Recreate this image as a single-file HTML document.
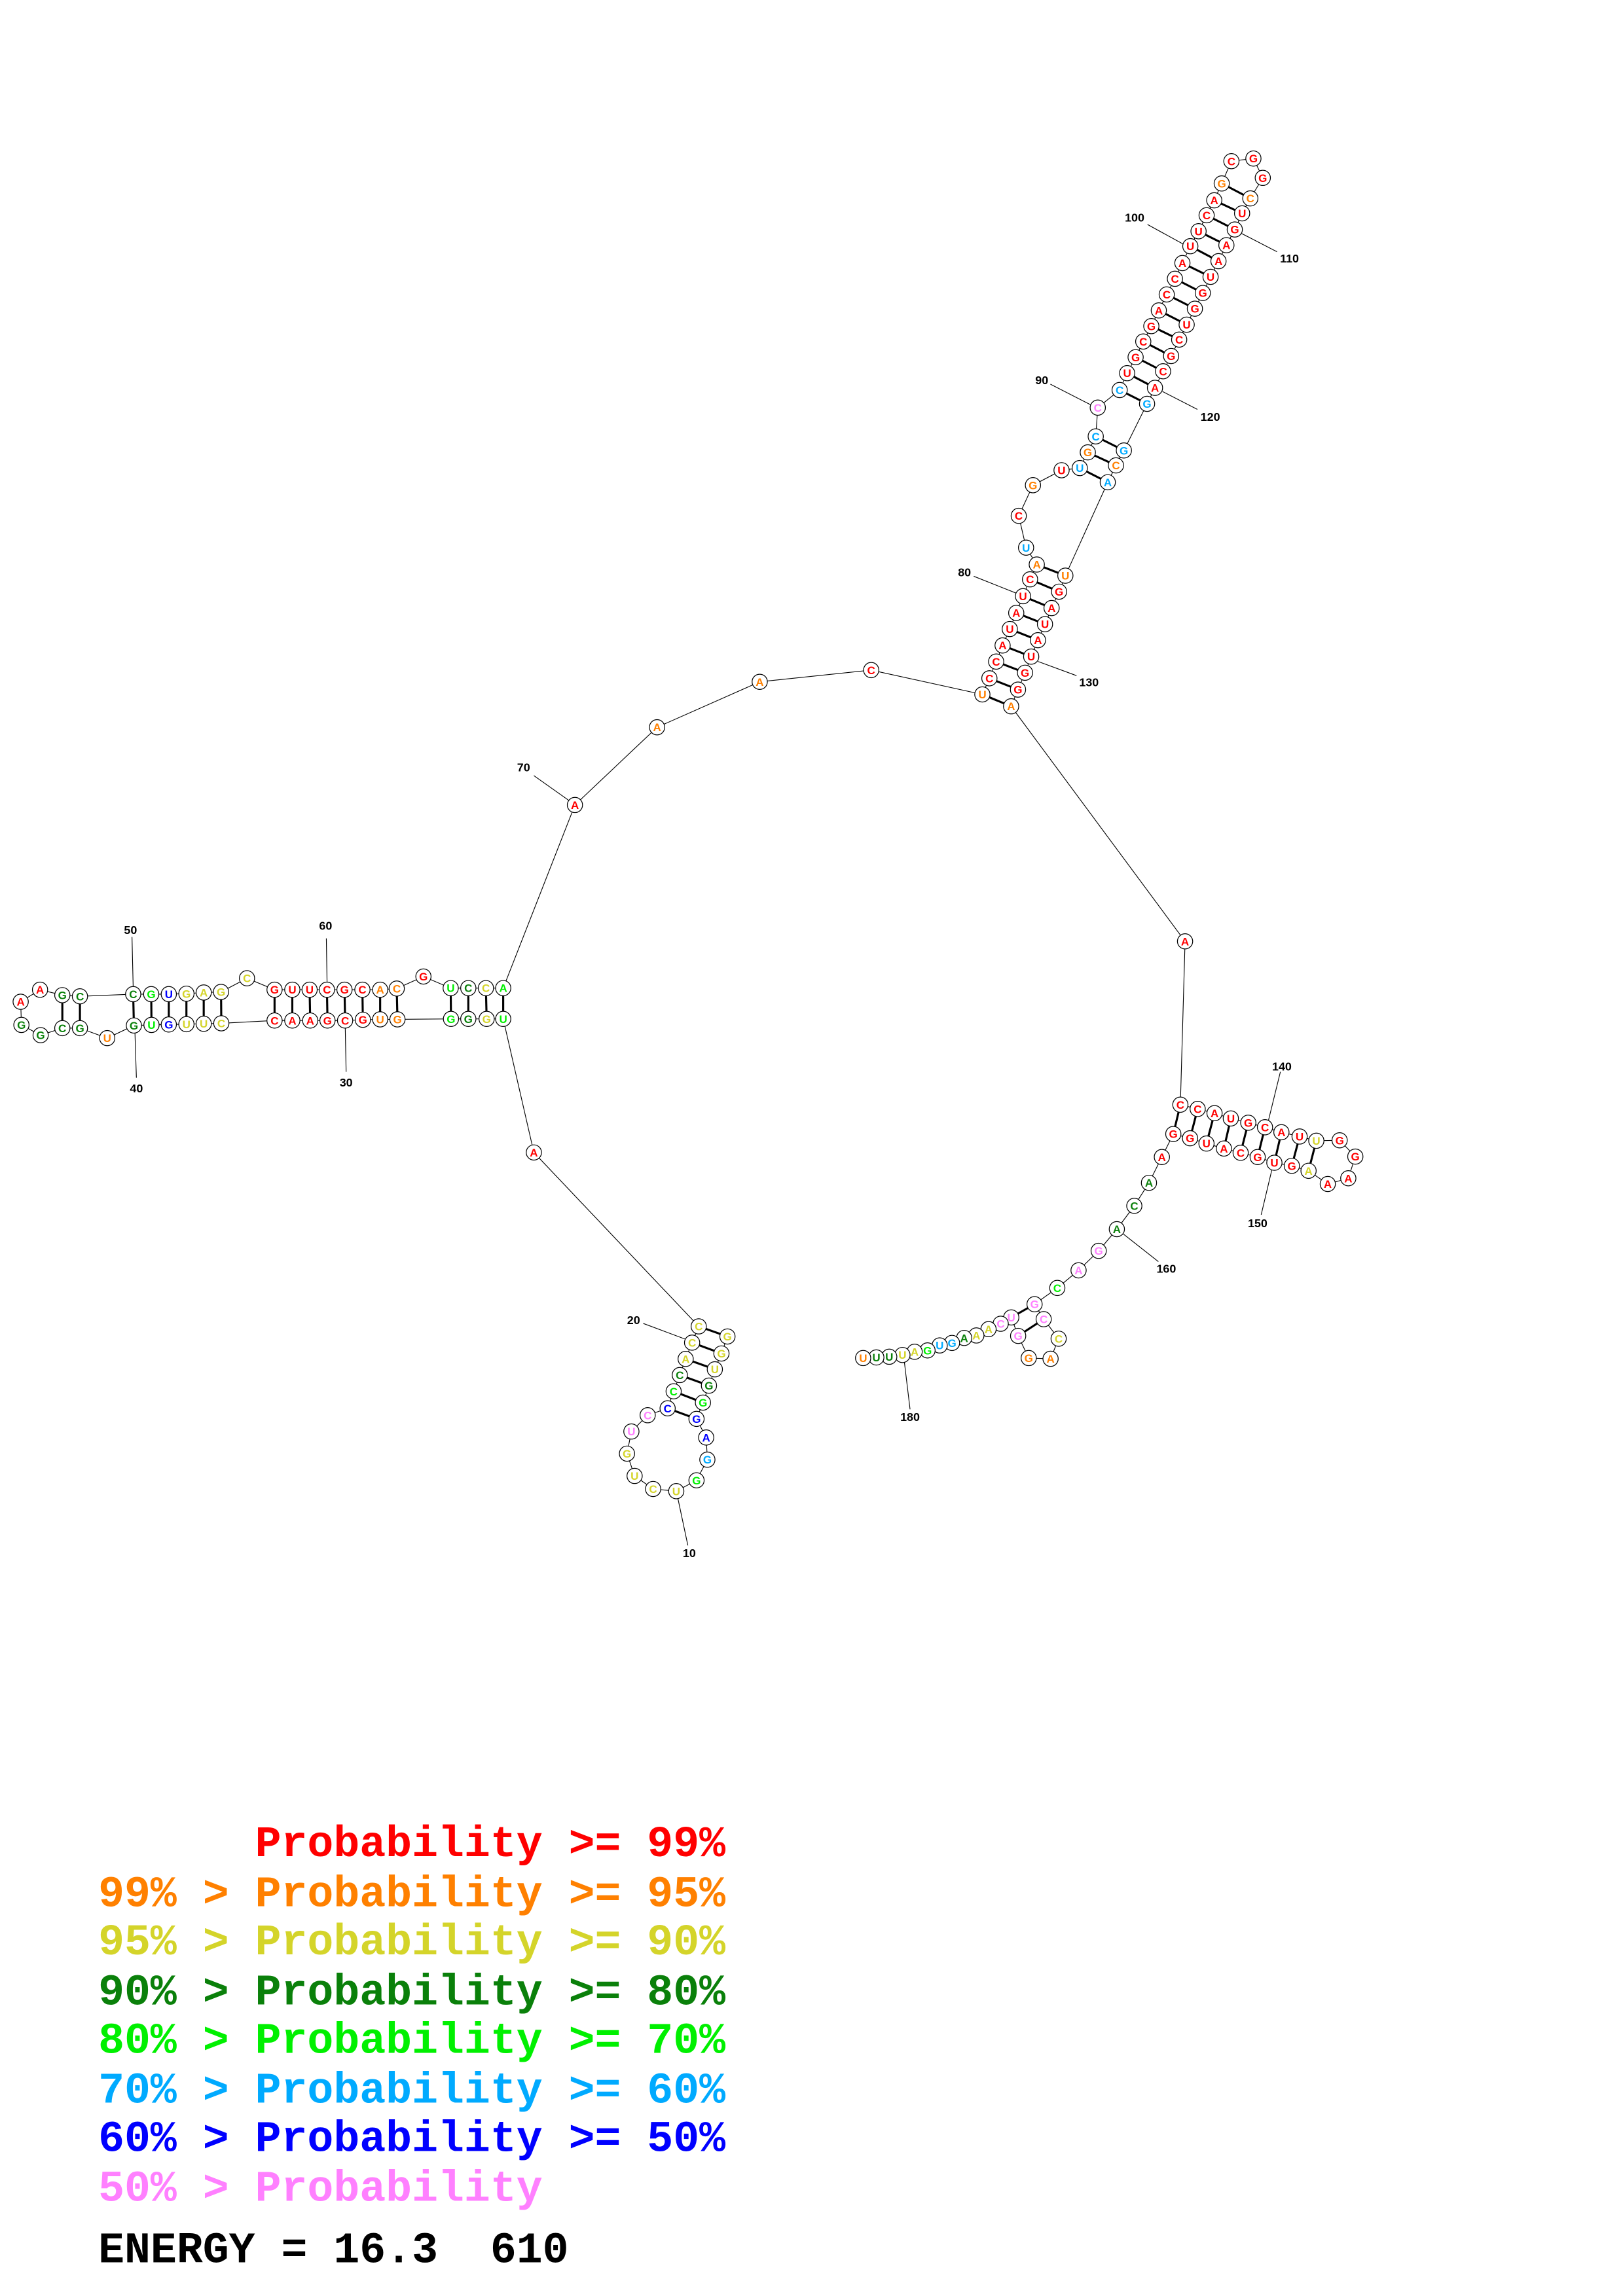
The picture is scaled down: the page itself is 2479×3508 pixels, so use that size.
<!DOCTYPE html>
<html><head><meta charset="utf-8"><style>
html,body{margin:0;padding:0;background:#fff}
svg{display:block}
.n text{font-family:"Liberation Sans",sans-serif;font-weight:bold;font-size:7.6px;text-anchor:middle}
.r{fill:#ff0000}.o{fill:#ff8000}.y{fill:#d4d42a}.d{fill:#0a800a}.g{fill:#00f000}.c{fill:#00aaff}.b{fill:#0000ff}.p{fill:#ff80ff}
.lb{font-family:"Liberation Sans",sans-serif;font-weight:bold;font-size:8px;text-anchor:middle;fill:#000}
.lg{font-family:"Liberation Mono",monospace;font-weight:bold;font-size:29.7px;white-space:pre}
</style></head><body>
<svg width="2479" height="3508" viewBox="0 0 1106.6 1565.9" xmlns="http://www.w3.org/2000/svg">
<rect width="1106.6" height="1565.9" fill="#fff"/>
<polyline fill="none" stroke="#000" stroke-width="0.5" points="496,911.5 491.9,923.1 487.4,933.9 483.4,945 479.3,956.6 474.9,967.7 481.5,980.4 482.3,995.5 474.9,1009.6 461.1,1017 445.3,1015.5 432.7,1006.6 427.5,991.4 430.5,976.3 441.6,965.2 455.2,960.5 459.3,948.9 463.5,937.8 467.5,926.8 471.9,915.7 476.4,904.6 364,786 343.1,694.9 331.8,694.9 319.3,694.9 307.5,694.9 271,695.2 259.2,695.2 247.4,695.5 235.3,696 223.3,696 211.5,696 199.3,696 187.2,696 150.9,697.9 138.9,698.2 127.1,698.5 115.1,698.7 103.3,699 91.3,699.4 73.1,708 54.5,701.2 42.5,701.2 27.7,706 14.6,699 14.1,683.2 27.3,675 42.5,678.7 54.5,679.5 90.8,678 103.1,678 115.1,678 127.1,677.7 138.9,676.9 150.7,676.5 168.4,667.2 187.2,675 199.3,675 211.1,675 222.9,675 234.9,675 247.1,675 259.2,675 270.5,674.2 288.7,666 307.3,673.9 319.3,673.9 331.3,673.9 343.1,673.9 392,549 448,496 518,465 594,457 669.8,473.6 674.6,462.6 679.2,451.2 683.6,440.2 688.5,429 692.9,418 697.5,406.6 702.3,395.1 706.9,385 699.6,373.5 694.6,351.8 704.3,330.9 723.8,320.7 736.2,319.2 741.7,308.5 747.1,297.6 748.5,278 763.4,266 768.5,254.5 774.3,243.6 779.5,232.9 785,222.4 790.1,211.7 795.5,200.8 801.1,190.1 806.2,179.4 811.6,167.9 817.2,157.7 822.7,146.8 827.9,136.6 833,125.1 839.6,109.9 854.6,108.1 861,121.3 852.5,135.3 846.9,145.5 841.9,156.5 836.2,167.2 830.8,178.1 825.4,188.8 820.1,199.8 814.7,210.5 809.1,221.4 804,231.6 798.5,242.8 793,253.2 787.5,264.5 782.1,275.4 766.3,307.2 760.9,317.4 755.3,328.9 726.4,392.6 722.1,403.5 717,414.7 712.5,425.7 707.7,436.6 703.1,447.8 698.9,458.8 694.1,470.3 689.4,481.7 808,642 804.8,753.4 816.6,756.3 828.1,759.2 839.2,762.8 851.1,765.7 862.5,768.8 873.7,772.2 886.1,775.1 897.5,778 913.4,777.7 924.1,788.8 919.3,803.6 905.3,807.5 892.2,798.5 880.8,795.1 868.9,793 857.5,789.1 845.9,786.2 834.5,783.3 822.6,779.9 811.4,776.3 800,773.4 792.2,789.1 783.4,806.7 773.4,822.4 761.5,838.3 749.1,853.1 735.4,866.4 720.9,878.4 705.4,889.5 711.6,899.7 721.8,913 716.3,926.7 701.4,926.2 694.2,911.1 689.5,898.5 682.3,902.8 674,906.5 665.7,910.8 657.4,912.5 649.1,915.9 640.7,917.6 632.4,921 623.6,921.9 615.3,924.1 606.3,925.3 597.5,925.8 588.5,926.2"/>
<g stroke="#000" stroke-width="1.4">
<line x1="476.4" y1="904.6" x2="496" y2="911.5"/><line x1="471.9" y1="915.7" x2="491.9" y2="923.1"/><line x1="467.5" y1="926.8" x2="487.4" y2="933.9"/><line x1="463.5" y1="937.8" x2="483.4" y2="945"/><line x1="459.3" y1="948.9" x2="479.3" y2="956.6"/><line x1="455.2" y1="960.5" x2="474.9" y2="967.7"/>
<line x1="42.5" y1="678.7" x2="42.5" y2="701.2"/><line x1="54.5" y1="679.5" x2="54.5" y2="701.2"/><line x1="90.8" y1="678" x2="91.3" y2="699.4"/><line x1="103.1" y1="678" x2="103.3" y2="699"/><line x1="115.1" y1="678" x2="115.1" y2="698.7"/><line x1="127.1" y1="677.7" x2="127.1" y2="698.5"/><line x1="138.9" y1="676.9" x2="138.9" y2="698.2"/><line x1="150.7" y1="676.5" x2="150.9" y2="697.9"/>
<line x1="187.2" y1="675" x2="187.2" y2="696"/><line x1="199.3" y1="675" x2="199.3" y2="696"/><line x1="211.1" y1="675" x2="211.5" y2="696"/><line x1="222.9" y1="675" x2="223.3" y2="696"/><line x1="234.9" y1="675" x2="235.3" y2="696"/><line x1="247.1" y1="675" x2="247.4" y2="695.5"/><line x1="259.2" y1="675" x2="259.2" y2="695.2"/><line x1="270.5" y1="674.2" x2="271" y2="695.2"/>
<line x1="307.3" y1="673.9" x2="307.5" y2="694.9"/><line x1="319.3" y1="673.9" x2="319.3" y2="694.9"/><line x1="331.3" y1="673.9" x2="331.8" y2="694.9"/><line x1="343.1" y1="673.9" x2="343.1" y2="694.9"/>
<line x1="669.8" y1="473.6" x2="689.4" y2="481.7"/><line x1="674.6" y1="462.6" x2="694.1" y2="470.3"/><line x1="679.2" y1="451.2" x2="698.9" y2="458.8"/><line x1="683.6" y1="440.2" x2="703.1" y2="447.8"/><line x1="688.5" y1="429" x2="707.7" y2="436.6"/><line x1="692.9" y1="418" x2="712.5" y2="425.7"/><line x1="697.5" y1="406.6" x2="717" y2="414.7"/><line x1="702.3" y1="395.1" x2="722.1" y2="403.5"/><line x1="706.9" y1="385" x2="726.4" y2="392.6"/>
<line x1="736.2" y1="319.2" x2="755.3" y2="328.9"/><line x1="741.7" y1="308.5" x2="760.9" y2="317.4"/><line x1="747.1" y1="297.6" x2="766.3" y2="307.2"/>
<line x1="763.4" y1="266" x2="782.1" y2="275.4"/><line x1="768.5" y1="254.5" x2="787.5" y2="264.5"/><line x1="774.3" y1="243.6" x2="793" y2="253.2"/><line x1="779.5" y1="232.9" x2="798.5" y2="242.8"/><line x1="785" y1="222.4" x2="804" y2="231.6"/><line x1="790.1" y1="211.7" x2="809.1" y2="221.4"/><line x1="795.5" y1="200.8" x2="814.7" y2="210.5"/><line x1="801.1" y1="190.1" x2="820.1" y2="199.8"/><line x1="806.2" y1="179.4" x2="825.4" y2="188.8"/><line x1="811.6" y1="167.9" x2="830.8" y2="178.1"/><line x1="817.2" y1="157.7" x2="836.2" y2="167.2"/><line x1="822.7" y1="146.8" x2="841.9" y2="156.5"/><line x1="827.9" y1="136.6" x2="846.9" y2="145.5"/><line x1="833" y1="125.1" x2="852.5" y2="135.3"/>
<line x1="804.8" y1="753.4" x2="800" y2="773.4"/><line x1="816.6" y1="756.3" x2="811.4" y2="776.3"/><line x1="828.1" y1="759.2" x2="822.6" y2="779.9"/><line x1="839.2" y1="762.8" x2="834.5" y2="783.3"/><line x1="851.1" y1="765.7" x2="845.9" y2="786.2"/><line x1="862.5" y1="768.8" x2="857.5" y2="789.1"/><line x1="873.7" y1="772.2" x2="868.9" y2="793"/><line x1="886.1" y1="775.1" x2="880.8" y2="795.1"/><line x1="897.5" y1="778" x2="892.2" y2="798.5"/>
<line x1="705.4" y1="889.5" x2="689.5" y2="898.5"/><line x1="711.6" y1="899.7" x2="694.2" y2="911.1"/>
</g>
<g stroke="#000" stroke-width="0.5">
<line x1="469" y1="1054" x2="462" y2="1021"/><line x1="438.6" y1="902.6" x2="467.5" y2="913.4"/>
<line x1="90" y1="639" x2="90.8" y2="673"/><line x1="92" y1="704" x2="93" y2="735"/><line x1="222.5" y1="640" x2="223" y2="670"/><line x1="235.4" y1="701" x2="236" y2="731"/>
<line x1="364" y1="529" x2="388" y2="546"/>
<line x1="782.4" y1="153.1" x2="807" y2="166.6"/><line x1="846.1" y1="159" x2="870.7" y2="171.7"/><line x1="716.2" y1="262" x2="743.9" y2="276.2"/><line x1="792.6" y1="267" x2="816.4" y2="279.2"/><line x1="663.9" y1="393" x2="692.8" y2="404.5"/><line x1="707.7" y1="451.1" x2="734" y2="460.8"/>
<line x1="873" y1="731" x2="864.9" y2="764"/><line x1="867.7" y1="795.6" x2="859.9" y2="828.5"/><line x1="766" y1="841.7" x2="789.8" y2="860.4"/><line x1="616.5" y1="927.9" x2="620.5" y2="961.2"/>
</g>
<g class="lb">
<text x="470" y="1062">10</text><text x="432" y="903">20</text><text x="236" y="741">30</text><text x="93" y="745">40</text><text x="89" y="637">50</text><text x="222" y="634">60</text><text x="357" y="526">70</text>
<text x="657.6" y="393">80</text><text x="710.3" y="262">90</text><text x="773.6" y="151">100</text><text x="879.2" y="179">110</text><text x="825.2" y="287">120</text><text x="742.5" y="468">130</text>
<text x="874" y="730">140</text><text x="857.5" y="837">150</text><text x="795.2" y="868">160</text><text x="620.5" y="969">180</text>
</g>
<g fill="#fff" stroke="#000" stroke-width="0.55">
<circle cx="496" cy="911.5" r="5.2"/><circle cx="491.9" cy="923.1" r="5.2"/><circle cx="487.4" cy="933.9" r="5.2"/><circle cx="483.4" cy="945" r="5.2"/><circle cx="479.3" cy="956.6" r="5.2"/><circle cx="474.9" cy="967.7" r="5.2"/><circle cx="481.5" cy="980.4" r="5.2"/><circle cx="482.3" cy="995.5" r="5.2"/><circle cx="474.9" cy="1009.6" r="5.2"/><circle cx="461.1" cy="1017" r="5.2"/><circle cx="445.3" cy="1015.5" r="5.2"/><circle cx="432.7" cy="1006.6" r="5.2"/><circle cx="427.5" cy="991.4" r="5.2"/><circle cx="430.5" cy="976.3" r="5.2"/><circle cx="441.6" cy="965.2" r="5.2"/><circle cx="455.2" cy="960.5" r="5.2"/><circle cx="459.3" cy="948.9" r="5.2"/><circle cx="463.5" cy="937.8" r="5.2"/><circle cx="467.5" cy="926.8" r="5.2"/><circle cx="471.9" cy="915.7" r="5.2"/><circle cx="476.4" cy="904.6" r="5.2"/><circle cx="364" cy="786" r="5.2"/>
<circle cx="343.1" cy="694.9" r="5.2"/><circle cx="331.8" cy="694.9" r="5.2"/><circle cx="319.3" cy="694.9" r="5.2"/><circle cx="307.5" cy="694.9" r="5.2"/><circle cx="271" cy="695.2" r="5.2"/><circle cx="259.2" cy="695.2" r="5.2"/><circle cx="247.4" cy="695.5" r="5.2"/><circle cx="235.3" cy="696" r="5.2"/><circle cx="223.3" cy="696" r="5.2"/><circle cx="211.5" cy="696" r="5.2"/><circle cx="199.3" cy="696" r="5.2"/><circle cx="187.2" cy="696" r="5.2"/><circle cx="150.9" cy="697.9" r="5.2"/><circle cx="138.9" cy="698.2" r="5.2"/><circle cx="127.1" cy="698.5" r="5.2"/><circle cx="115.1" cy="698.7" r="5.2"/><circle cx="103.3" cy="699" r="5.2"/><circle cx="91.3" cy="699.4" r="5.2"/><circle cx="73.1" cy="708" r="5.2"/><circle cx="54.5" cy="701.2" r="5.2"/><circle cx="42.5" cy="701.2" r="5.2"/><circle cx="27.7" cy="706" r="5.2"/><circle cx="14.6" cy="699" r="5.2"/><circle cx="14.1" cy="683.2" r="5.2"/><circle cx="27.3" cy="675" r="5.2"/><circle cx="42.5" cy="678.7" r="5.2"/><circle cx="54.5" cy="679.5" r="5.2"/><circle cx="90.8" cy="678" r="5.2"/><circle cx="103.1" cy="678" r="5.2"/><circle cx="115.1" cy="678" r="5.2"/><circle cx="127.1" cy="677.7" r="5.2"/><circle cx="138.9" cy="676.9" r="5.2"/><circle cx="150.7" cy="676.5" r="5.2"/><circle cx="168.4" cy="667.2" r="5.2"/><circle cx="187.2" cy="675" r="5.2"/><circle cx="199.3" cy="675" r="5.2"/><circle cx="211.1" cy="675" r="5.2"/><circle cx="222.9" cy="675" r="5.2"/><circle cx="234.9" cy="675" r="5.2"/><circle cx="247.1" cy="675" r="5.2"/><circle cx="259.2" cy="675" r="5.2"/><circle cx="270.5" cy="674.2" r="5.2"/><circle cx="288.7" cy="666" r="5.2"/><circle cx="307.3" cy="673.9" r="5.2"/><circle cx="319.3" cy="673.9" r="5.2"/><circle cx="331.3" cy="673.9" r="5.2"/><circle cx="343.1" cy="673.9" r="5.2"/>
<circle cx="392" cy="549" r="5.2"/><circle cx="448" cy="496" r="5.2"/><circle cx="518" cy="465" r="5.2"/><circle cx="594" cy="457" r="5.2"/>
<circle cx="669.8" cy="473.6" r="5.2"/><circle cx="674.6" cy="462.6" r="5.2"/><circle cx="679.2" cy="451.2" r="5.2"/><circle cx="683.6" cy="440.2" r="5.2"/><circle cx="688.5" cy="429" r="5.2"/><circle cx="692.9" cy="418" r="5.2"/><circle cx="697.5" cy="406.6" r="5.2"/><circle cx="702.3" cy="395.1" r="5.2"/><circle cx="706.9" cy="385" r="5.2"/><circle cx="699.6" cy="373.5" r="5.2"/><circle cx="694.6" cy="351.8" r="5.2"/><circle cx="704.3" cy="330.9" r="5.2"/><circle cx="723.8" cy="320.7" r="5.2"/><circle cx="736.2" cy="319.2" r="5.2"/><circle cx="741.7" cy="308.5" r="5.2"/><circle cx="747.1" cy="297.6" r="5.2"/><circle cx="748.5" cy="278" r="5.2"/><circle cx="763.4" cy="266" r="5.2"/><circle cx="768.5" cy="254.5" r="5.2"/><circle cx="774.3" cy="243.6" r="5.2"/><circle cx="779.5" cy="232.9" r="5.2"/><circle cx="785" cy="222.4" r="5.2"/><circle cx="790.1" cy="211.7" r="5.2"/><circle cx="795.5" cy="200.8" r="5.2"/><circle cx="801.1" cy="190.1" r="5.2"/><circle cx="806.2" cy="179.4" r="5.2"/><circle cx="811.6" cy="167.9" r="5.2"/><circle cx="817.2" cy="157.7" r="5.2"/><circle cx="822.7" cy="146.8" r="5.2"/><circle cx="827.9" cy="136.6" r="5.2"/><circle cx="833" cy="125.1" r="5.2"/><circle cx="839.6" cy="109.9" r="5.2"/><circle cx="854.6" cy="108.1" r="5.2"/><circle cx="861" cy="121.3" r="5.2"/><circle cx="852.5" cy="135.3" r="5.2"/><circle cx="846.9" cy="145.5" r="5.2"/><circle cx="841.9" cy="156.5" r="5.2"/><circle cx="836.2" cy="167.2" r="5.2"/><circle cx="830.8" cy="178.1" r="5.2"/><circle cx="825.4" cy="188.8" r="5.2"/><circle cx="820.1" cy="199.8" r="5.2"/><circle cx="814.7" cy="210.5" r="5.2"/><circle cx="809.1" cy="221.4" r="5.2"/><circle cx="804" cy="231.6" r="5.2"/><circle cx="798.5" cy="242.8" r="5.2"/><circle cx="793" cy="253.2" r="5.2"/><circle cx="787.5" cy="264.5" r="5.2"/><circle cx="782.1" cy="275.4" r="5.2"/><circle cx="766.3" cy="307.2" r="5.2"/><circle cx="760.9" cy="317.4" r="5.2"/><circle cx="755.3" cy="328.9" r="5.2"/><circle cx="726.4" cy="392.6" r="5.2"/><circle cx="722.1" cy="403.5" r="5.2"/><circle cx="717" cy="414.7" r="5.2"/><circle cx="712.5" cy="425.7" r="5.2"/><circle cx="707.7" cy="436.6" r="5.2"/><circle cx="703.1" cy="447.8" r="5.2"/><circle cx="698.9" cy="458.8" r="5.2"/><circle cx="694.1" cy="470.3" r="5.2"/><circle cx="689.4" cy="481.7" r="5.2"/><circle cx="808" cy="642" r="5.2"/>
<circle cx="804.8" cy="753.4" r="5.2"/><circle cx="816.6" cy="756.3" r="5.2"/><circle cx="828.1" cy="759.2" r="5.2"/><circle cx="839.2" cy="762.8" r="5.2"/><circle cx="851.1" cy="765.7" r="5.2"/><circle cx="862.5" cy="768.8" r="5.2"/><circle cx="873.7" cy="772.2" r="5.2"/><circle cx="886.1" cy="775.1" r="5.2"/><circle cx="897.5" cy="778" r="5.2"/><circle cx="913.4" cy="777.7" r="5.2"/><circle cx="924.1" cy="788.8" r="5.2"/><circle cx="919.3" cy="803.6" r="5.2"/><circle cx="905.3" cy="807.5" r="5.2"/><circle cx="892.2" cy="798.5" r="5.2"/><circle cx="880.8" cy="795.1" r="5.2"/><circle cx="868.9" cy="793" r="5.2"/><circle cx="857.5" cy="789.1" r="5.2"/><circle cx="845.9" cy="786.2" r="5.2"/><circle cx="834.5" cy="783.3" r="5.2"/><circle cx="822.6" cy="779.9" r="5.2"/><circle cx="811.4" cy="776.3" r="5.2"/><circle cx="800" cy="773.4" r="5.2"/><circle cx="792.2" cy="789.1" r="5.2"/><circle cx="783.4" cy="806.7" r="5.2"/><circle cx="773.4" cy="822.4" r="5.2"/><circle cx="761.5" cy="838.3" r="5.2"/><circle cx="749.1" cy="853.1" r="5.2"/><circle cx="735.4" cy="866.4" r="5.2"/><circle cx="720.9" cy="878.4" r="5.2"/><circle cx="705.4" cy="889.5" r="5.2"/><circle cx="711.6" cy="899.7" r="5.2"/><circle cx="721.8" cy="913" r="5.2"/><circle cx="716.3" cy="926.7" r="5.2"/><circle cx="701.4" cy="926.2" r="5.2"/><circle cx="694.2" cy="911.1" r="5.2"/><circle cx="689.5" cy="898.5" r="5.2"/><circle cx="682.3" cy="902.8" r="5.2"/><circle cx="674" cy="906.5" r="5.2"/><circle cx="665.7" cy="910.8" r="5.2"/><circle cx="657.4" cy="912.5" r="5.2"/><circle cx="649.1" cy="915.9" r="5.2"/><circle cx="640.7" cy="917.6" r="5.2"/><circle cx="632.4" cy="921" r="5.2"/><circle cx="623.6" cy="921.9" r="5.2"/><circle cx="615.3" cy="924.1" r="5.2"/><circle cx="606.3" cy="925.3" r="5.2"/><circle cx="597.5" cy="925.8" r="5.2"/><circle cx="588.5" cy="926.2" r="5.2"/>
</g>
<g class="n" transform="translate(0,2.7)">
<text x="496" y="911.5" class="y">G</text><text x="491.9" y="923.1" class="y">G</text><text x="487.4" y="933.9" class="y">U</text><text x="483.4" y="945" class="d">G</text><text x="479.3" y="956.6" class="g">G</text><text x="474.9" y="967.7" class="b">G</text><text x="481.5" y="980.4" class="b">A</text><text x="482.3" y="995.5" class="c">G</text><text x="474.9" y="1009.6" class="g">G</text><text x="461.1" y="1017" class="y">U</text><text x="445.3" y="1015.5" class="y">C</text><text x="432.7" y="1006.6" class="y">U</text><text x="427.5" y="991.4" class="y">G</text><text x="430.5" y="976.3" class="p">U</text><text x="441.6" y="965.2" class="p">C</text><text x="455.2" y="960.5" class="b">C</text><text x="459.3" y="948.9" class="g">C</text><text x="463.5" y="937.8" class="d">C</text><text x="467.5" y="926.8" class="y">A</text><text x="471.9" y="915.7" class="y">C</text><text x="476.4" y="904.6" class="y">C</text><text x="364" y="786" class="r">A</text>
<text x="343.1" y="694.9" class="g">U</text><text x="331.8" y="694.9" class="y">G</text><text x="319.3" y="694.9" class="d">G</text><text x="307.5" y="694.9" class="g">G</text><text x="271" y="695.2" class="o">G</text><text x="259.2" y="695.2" class="o">U</text><text x="247.4" y="695.5" class="r">G</text><text x="235.3" y="696" class="r">C</text><text x="223.3" y="696" class="r">G</text><text x="211.5" y="696" class="r">A</text><text x="199.3" y="696" class="r">A</text><text x="187.2" y="696" class="r">C</text><text x="150.9" y="697.9" class="y">C</text><text x="138.9" y="698.2" class="y">U</text><text x="127.1" y="698.5" class="y">U</text><text x="115.1" y="698.7" class="b">G</text><text x="103.3" y="699" class="g">U</text><text x="91.3" y="699.4" class="d">G</text><text x="73.1" y="708" class="o">U</text><text x="54.5" y="701.2" class="d">G</text><text x="42.5" y="701.2" class="d">C</text><text x="27.7" y="706" class="d">G</text><text x="14.6" y="699" class="d">G</text><text x="14.1" y="683.2" class="r">A</text><text x="27.3" y="675" class="r">A</text><text x="42.5" y="678.7" class="d">G</text><text x="54.5" y="679.5" class="d">C</text><text x="90.8" y="678" class="d">C</text><text x="103.1" y="678" class="g">G</text><text x="115.1" y="678" class="b">U</text><text x="127.1" y="677.7" class="y">G</text><text x="138.9" y="676.9" class="y">A</text><text x="150.7" y="676.5" class="y">G</text><text x="168.4" y="667.2" class="y">C</text><text x="187.2" y="675" class="r">G</text><text x="199.3" y="675" class="r">U</text><text x="211.1" y="675" class="r">U</text><text x="222.9" y="675" class="r">C</text><text x="234.9" y="675" class="r">G</text><text x="247.1" y="675" class="r">C</text><text x="259.2" y="675" class="o">A</text><text x="270.5" y="674.2" class="o">C</text><text x="288.7" y="666" class="r">G</text><text x="307.3" y="673.9" class="g">U</text><text x="319.3" y="673.9" class="d">C</text><text x="331.3" y="673.9" class="y">C</text><text x="343.1" y="673.9" class="g">A</text>
<text x="392" y="549" class="r">A</text><text x="448" y="496" class="o">A</text><text x="518" y="465" class="o">A</text><text x="594" y="457" class="r">C</text>
<text x="669.8" y="473.6" class="o">U</text><text x="674.6" y="462.6" class="r">C</text><text x="679.2" y="451.2" class="r">C</text><text x="683.6" y="440.2" class="r">A</text><text x="688.5" y="429" class="r">U</text><text x="692.9" y="418" class="r">A</text><text x="697.5" y="406.6" class="r">U</text><text x="702.3" y="395.1" class="r">C</text><text x="706.9" y="385" class="o">A</text><text x="699.6" y="373.5" class="c">U</text><text x="694.6" y="351.8" class="r">C</text><text x="704.3" y="330.9" class="o">G</text><text x="723.8" y="320.7" class="r">U</text><text x="736.2" y="319.2" class="c">U</text><text x="741.7" y="308.5" class="o">G</text><text x="747.1" y="297.6" class="c">C</text><text x="748.5" y="278" class="p">C</text><text x="763.4" y="266" class="c">C</text><text x="768.5" y="254.5" class="r">U</text><text x="774.3" y="243.6" class="r">G</text><text x="779.5" y="232.9" class="r">C</text><text x="785" y="222.4" class="r">G</text><text x="790.1" y="211.7" class="r">A</text><text x="795.5" y="200.8" class="r">C</text><text x="801.1" y="190.1" class="r">C</text><text x="806.2" y="179.4" class="r">A</text><text x="811.6" y="167.9" class="r">U</text><text x="817.2" y="157.7" class="r">U</text><text x="822.7" y="146.8" class="r">C</text><text x="827.9" y="136.6" class="r">A</text><text x="833" y="125.1" class="o">G</text><text x="839.6" y="109.9" class="r">C</text><text x="854.6" y="108.1" class="r">G</text><text x="861" y="121.3" class="r">G</text><text x="852.5" y="135.3" class="o">C</text><text x="846.9" y="145.5" class="r">U</text><text x="841.9" y="156.5" class="r">G</text><text x="836.2" y="167.2" class="r">A</text><text x="830.8" y="178.1" class="r">A</text><text x="825.4" y="188.8" class="r">U</text><text x="820.1" y="199.8" class="r">G</text><text x="814.7" y="210.5" class="r">G</text><text x="809.1" y="221.4" class="r">U</text><text x="804" y="231.6" class="r">C</text><text x="798.5" y="242.8" class="r">G</text><text x="793" y="253.2" class="r">C</text><text x="787.5" y="264.5" class="r">A</text><text x="782.1" y="275.4" class="c">G</text><text x="766.3" y="307.2" class="c">G</text><text x="760.9" y="317.4" class="o">C</text><text x="755.3" y="328.9" class="c">A</text><text x="726.4" y="392.6" class="o">U</text><text x="722.1" y="403.5" class="r">G</text><text x="717" y="414.7" class="r">A</text><text x="712.5" y="425.7" class="r">U</text><text x="707.7" y="436.6" class="r">A</text><text x="703.1" y="447.8" class="r">U</text><text x="698.9" y="458.8" class="r">G</text><text x="694.1" y="470.3" class="r">G</text><text x="689.4" y="481.7" class="o">A</text><text x="808" y="642" class="r">A</text>
<text x="804.8" y="753.4" class="r">C</text><text x="816.6" y="756.3" class="r">C</text><text x="828.1" y="759.2" class="r">A</text><text x="839.2" y="762.8" class="r">U</text><text x="851.1" y="765.7" class="r">G</text><text x="862.5" y="768.8" class="r">C</text><text x="873.7" y="772.2" class="r">A</text><text x="886.1" y="775.1" class="r">U</text><text x="897.5" y="778" class="y">U</text><text x="913.4" y="777.7" class="r">G</text><text x="924.1" y="788.8" class="r">G</text><text x="919.3" y="803.6" class="r">A</text><text x="905.3" y="807.5" class="r">A</text><text x="892.2" y="798.5" class="y">A</text><text x="880.8" y="795.1" class="r">G</text><text x="868.9" y="793" class="r">U</text><text x="857.5" y="789.1" class="r">G</text><text x="845.9" y="786.2" class="r">C</text><text x="834.5" y="783.3" class="r">A</text><text x="822.6" y="779.9" class="r">U</text><text x="811.4" y="776.3" class="r">G</text><text x="800" y="773.4" class="r">G</text><text x="792.2" y="789.1" class="r">A</text><text x="783.4" y="806.7" class="d">A</text><text x="773.4" y="822.4" class="d">C</text><text x="761.5" y="838.3" class="d">A</text><text x="749.1" y="853.1" class="p">G</text><text x="735.4" y="866.4" class="p">A</text><text x="720.9" y="878.4" class="g">C</text><text x="705.4" y="889.5" class="p">G</text><text x="711.6" y="899.7" class="p">C</text><text x="721.8" y="913" class="y">C</text><text x="716.3" y="926.7" class="o">A</text><text x="701.4" y="926.2" class="o">G</text><text x="694.2" y="911.1" class="p">G</text><text x="689.5" y="898.5" class="p">U</text><text x="682.3" y="902.8" class="p">C</text><text x="674" y="906.5" class="y">A</text><text x="665.7" y="910.8" class="y">A</text><text x="657.4" y="912.5" class="d">A</text><text x="649.1" y="915.9" class="c">G</text><text x="640.7" y="917.6" class="c">U</text><text x="632.4" y="921" class="g">G</text><text x="623.6" y="921.9" class="y">A</text><text x="615.3" y="924.1" class="y">U</text><text x="606.3" y="925.3" class="d">U</text><text x="597.5" y="925.8" class="d">U</text><text x="588.5" y="926.2" class="o">U</text>
</g>
<g class="lg">
<text x="67" y="1266" fill="#ff0000" xml:space="preserve">      Probability &gt;= 99%</text>
<text x="67" y="1300" fill="#ff8000" xml:space="preserve">99% &gt; Probability &gt;= 95%</text>
<text x="67" y="1333" fill="#d4d42a" xml:space="preserve">95% &gt; Probability &gt;= 90%</text>
<text x="67" y="1367" fill="#0a800a" xml:space="preserve">90% &gt; Probability &gt;= 80%</text>
<text x="67" y="1400" fill="#00f000" xml:space="preserve">80% &gt; Probability &gt;= 70%</text>
<text x="67" y="1434" fill="#00aaff" xml:space="preserve">70% &gt; Probability &gt;= 60%</text>
<text x="67" y="1467" fill="#0000ff" xml:space="preserve">60% &gt; Probability &gt;= 50%</text>
<text x="67" y="1501" fill="#ff80ff" xml:space="preserve">50% &gt; Probability</text>
<text x="67" y="1543" fill="#000" xml:space="preserve">ENERGY = 16.3  610</text>
</g>
</svg>
</body></html>
